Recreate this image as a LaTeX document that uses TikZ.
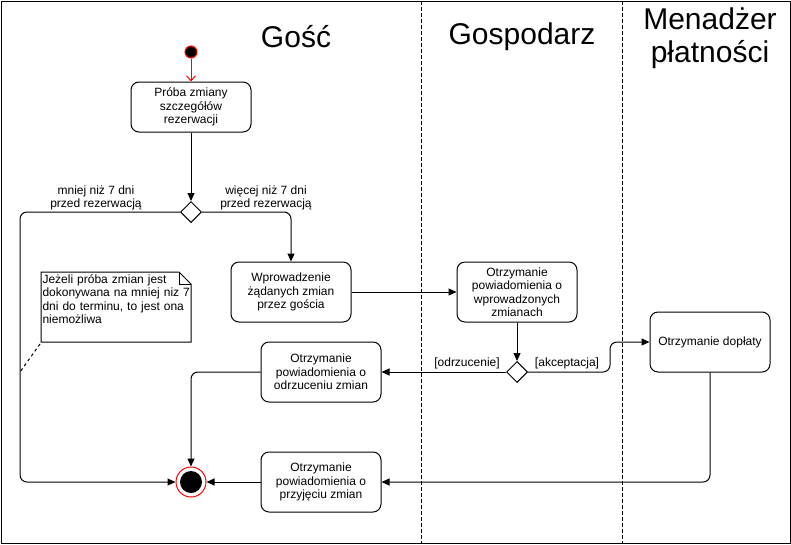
\documentclass[tikz,border=0pt]{standalone}
\usepackage{fontspec}
\setmainfont{Liberation Sans}
\usetikzlibrary{arrows.meta,shapes.geometric}
\begin{document}
\begin{tikzpicture}[x=1pt,y=-1pt,line width=1pt,
    every node/.style={font=\fontsize{12}{13.5}\selectfont},
    act/.style={draw,rectangle,rounded corners=8pt,minimum width=120pt,minimum height=60pt,align=center,inner sep=2pt},
    choice/.style={draw,diamond,aspect=1,minimum size=21pt,inner sep=0pt,fill=white},
    flow/.style={-{Triangle[length=8pt,width=7pt]},rounded corners=7pt},
    lane/.style={font=\fontsize{30}{33}\selectfont,align=center}]
  \useasboundingbox (0,0) rectangle (791,544);
  \draw (1,1) rectangle (790,543);
  \draw[dash pattern=on 4pt off 2pt] (421,1) -- (421,543);
  \draw[dash pattern=on 4pt off 2pt] (622,1) -- (622,543);
  \node[lane] at (296,37) {Gość};
  \node[lane] at (522,37) {Gospodarz};
  \node[lane] at (710,38) {Menadżer\\płatności};
  \node[circle,draw=red,fill=black,minimum size=12pt,inner sep=0pt] (start) at (191,52) {};
  \node[act,minimum height=50pt] (zmiana) at (191,107) {Próba zmiany\\szczegółów\\rezerwacji};
  \node[choice] (termin) at (191,212) {};
  \node[act] (wprow) at (291,292) {Wprowadzenie\\żądanych zmian\\przez gościa};
  \node[act] (powiad) at (517,292) {Otrzymanie\\powiadomienia o\\wprowadzonych\\zmianach};
  \node[choice] (decyzja) at (517,372) {};
  \node[act] (doplata) at (710,342) {Otrzymanie dopłaty};
  \node[act] (odrz) at (321,372) {Otrzymanie\\powiadomienia o\\odrzuceniu zmian};
  \node[act] (przyj) at (321,482) {Otrzymanie\\powiadomienia o\\przyjęciu zmian};
  \node[circle,draw=red,fill=white,minimum size=30pt,inner sep=0pt] (koniec) at (191,482) {};
  \fill (koniec.center) circle (11pt);
  \draw (41,272) -- (179,272) -- (191,284) -- (191,342) -- (41,342) -- cycle;
  \draw (179,272) -- (179,284) -- (191,284);
  \node[anchor=north west,text width=148pt,inner sep=1pt,align=left] (uwaga) at (41,273)
    {Jeżeli próba zmian jest\\dokonywana na mniej niz 7\\dni do terminu, to jest ona\\niemożliwa};
  \coordinate (uwagaDol) at (40,344);
  \coordinate (kotwica) at (20,372);
  \coordinate (lewy) at (20,482);
  \coordinate (zakret) at (610,357);
  \draw[dash pattern=on 3pt off 3pt] (uwagaDol) -- (kotwica);
  \draw[red,-{Straight Barb[length=5pt,width=9pt]}] (start) -- (zmiana);
  \draw[flow] (zmiana) -- (termin);
  \draw[flow] (termin.west) -| (lewy) -- (koniec);
  \draw[flow] (termin.east) -| (wprow.north);
  \draw[flow] (wprow) -- (powiad);
  \draw[flow] (powiad) -- (decyzja);
  \draw[flow] (decyzja) -- (odrz);
  \draw[flow] (decyzja.east) -| (zakret) |- (doplata.west);
  \draw[flow] (doplata.south) |- (przyj.east);
  \draw[flow] (odrz.west) -| (koniec.north);
  \draw[flow] (przyj) -- (koniec);
  \node[align=center] at (96,198) {mniej niż 7 dni\\przed rezerwacją};
  \node[align=center] at (266,198) {więcej niż 7 dni\\przed rezerwacją};
  \node at (467,363) {[odrzucenie]};
  \node at (567,363) {[akceptacja]};
\end{tikzpicture}
\end{document}
